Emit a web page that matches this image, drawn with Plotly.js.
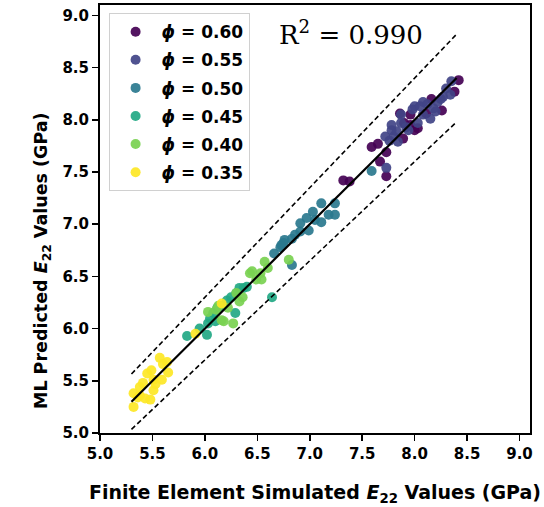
<!DOCTYPE html>
<html>
<head>
<meta charset="utf-8">
<script src="https://cdn.plot.ly/plotly-3.0.1.min.js"></script>
<style>html,body{margin:0;padding:0;background:#fff;}#chart{width:544px;height:507px;}</style>
</head>
<body>
<div id="chart"></div>
<script>
// phi series names and colors
const phiLabels = ["0.60", "0.55", "0.50", "0.45", "0.40", "0.35"];
const phiColors = ["#440154", "#414487", "#2a788e", "#22a884", "#7ad151", "#fde725"];

// Finite element (x) and ML predicted (y) values, GPa
const x060 = [7.32, 7.38, 7.59, 7.65, 7.67, 7.73, 7.73, 7.86, 7.89, 7.96, 7.96, 8.00, 8.03, 8.11, 8.16, 8.26, 8.38, 8.42, 7.90];
const y060 = [7.42, 7.41, 7.74, 7.77, 7.60, 7.69, 7.46, 8.06, 7.82, 8.05, 7.95, 7.90, 7.92, 8.06, 8.20, 8.09, 8.27, 8.38, 7.97];

const x055 = [7.73, 7.72, 7.78, 7.80, 7.83, 7.84, 7.87, 7.87, 7.92, 7.94, 8.00, 8.03, 8.08, 8.08, 8.15, 8.18, 8.22, 8.27, 8.34, 8.35, 7.78, 7.98, 8.05, 8.12, 8.20, 8.30, 7.76, 8.25];
const y055 = [7.54, 7.84, 7.90, 7.84, 7.89, 7.79, 7.97, 8.05, 7.93, 7.90, 8.13, 7.97, 8.17, 8.05, 8.01, 8.11, 8.17, 8.22, 8.24, 8.37, 7.95, 8.10, 8.13, 8.15, 8.08, 8.30, 7.80, 8.20];

const x050 = [6.66, 6.72, 6.73, 6.75, 6.76, 6.83, 6.83, 6.86, 6.91, 6.91, 6.97, 6.99, 7.03, 7.05, 7.11, 7.11, 7.18, 7.24, 7.24, 7.59];
const y050 = [6.72, 6.78, 6.80, 6.82, 6.85, 6.86, 6.61, 6.90, 7.01, 6.93, 7.06, 6.94, 7.12, 7.04, 7.02, 7.20, 7.09, 7.20, 7.09, 7.51];

const x045 = [5.83, 5.95, 6.02, 6.03, 6.05, 6.08, 6.10, 6.12, 6.16, 6.21, 6.25, 6.29, 6.30, 6.33, 6.37, 6.40, 6.64];
const y045 = [5.93, 6.00, 5.94, 6.05, 6.10, 6.15, 6.07, 6.20, 6.22, 6.27, 6.30, 6.15, 6.34, 6.39, 6.39, 6.40, 6.30];

const x040 = [6.03, 6.11, 6.13, 6.16, 6.18, 6.22, 6.27, 6.30, 6.33, 6.36, 6.43, 6.45, 6.49, 6.53, 6.54, 6.57, 6.60, 6.80];
const y040 = [6.16, 6.18, 6.22, 6.08, 6.07, 6.20, 6.05, 6.34, 6.26, 6.30, 6.53, 6.55, 6.47, 6.53, 6.47, 6.64, 6.58, 6.66];

const x035 = [5.32, 5.32, 5.36, 5.38, 5.38, 5.41, 5.43, 5.45, 5.48, 5.49, 5.51, 5.51, 5.53, 5.57, 5.59, 5.60, 5.64, 5.65, 5.91, 6.16];
const y035 = [5.25, 5.38, 5.34, 5.36, 5.44, 5.48, 5.33, 5.57, 5.32, 5.60, 5.51, 5.41, 5.47, 5.72, 5.51, 5.66, 5.68, 5.58, 5.95, 6.24];

// Reference lines: y = x fit and +/-5% bounds
const lineX = [5.3, 8.4];
const fitY = [5.3, 8.4];
const upperY = [5.565, 8.82];
const lowerY = [5.035, 7.98];

// Axis ticks
const tickVals = [5.0, 5.5, 6.0, 6.5, 7.0, 7.5, 8.0, 8.5, 9.0];
const tickText = ["5.0", "5.5", "6.0", "6.5", "7.0", "7.5", "8.0", "8.5", "9.0"];

const xs = [x060, x055, x050, x045, x040, x035];
const ys = [y060, y055, y050, y045, y040, y035];

const traces = [];
for (let i = 0; i < phiLabels.length; i++) {
  traces.push({
    type: 'scatter', mode: 'markers',
    x: xs[i], y: ys[i],
    name: '<b><i>ϕ</i> = ' + phiLabels[i] + '</b>',
    legendgroup: 'g' + i,
    marker: {color: phiColors[i], size: 10, opacity: 0.92, line: {width: 0}},
    cliponaxis: false
  });
}
traces.push({type: 'scatter', mode: 'lines', x: lineX, y: upperY, showlegend: false,
  line: {color: 'black', width: 1.6, dash: '5px,3px'}, hoverinfo: 'skip'});
traces.push({type: 'scatter', mode: 'lines', x: lineX, y: lowerY, showlegend: false,
  line: {color: 'black', width: 1.6, dash: '5px,3px'}, hoverinfo: 'skip'});
traces.push({type: 'scatter', mode: 'lines', x: lineX, y: fitY, showlegend: false,
  line: {color: 'black', width: 2.2}, hoverinfo: 'skip'});

const tickFont = {family: 'DejaVu Sans', size: 15, color: 'black', weight: 'bold'};
const axisCommon = {
  showgrid: false, zeroline: false, showline: true, mirror: true,
  linecolor: 'black', linewidth: 2, ticks: 'outside', ticklen: 6, tickwidth: 1.6,
  tickcolor: 'black', tickvals: tickVals, ticktext: tickText, tickfont: tickFont
};

const layout = {
  width: 544, height: 507,
  margin: {l: 100, r: 14, t: 5, b: 74},
  paper_bgcolor: 'white', plot_bgcolor: 'white',
  showlegend: true,
  xaxis: Object.assign({}, axisCommon, {
    range: [5.0, 9.1],
    title: {text: '<b>Finite Element Simulated <i>E</i><sub>22</sub> Values (GPa)</b>',
      font: {family: 'DejaVu Sans', size: 19, color: 'black'}, standoff: 24}
  }),
  yaxis: Object.assign({}, axisCommon, {range: [5.0, 9.1]}),
  legend: {
    x: 0.02, y: 0.981, xanchor: 'left', yanchor: 'top',
    bgcolor: 'white', bordercolor: '#d0d0d0', borderwidth: 1,
    font: {family: 'DejaVu Sans', size: 17, color: 'black'},
    tracegroupgap: 3, itemwidth: 42, traceorder: 'grouped'
  },
  annotations: [
    {xref: 'paper', yref: 'paper', x: 0.5826, y: 0.9346, xanchor: 'center', yanchor: 'middle',
     text: 'R<sup>2</sup> = 0.990', showarrow: false,
     font: {family: 'DejaVu Serif', size: 26, color: 'black'}},
    {xref: 'paper', yref: 'paper', x: -0.135, y: 0.404, xanchor: 'center', yanchor: 'middle',
     textangle: -90, showarrow: false,
     text: '<b>ML Predicted <i>E</i><sub>22</sub> Values (GPa)</b>',
     font: {family: 'DejaVu Sans', size: 17.5, color: 'black'}}
  ]
};

Plotly.newPlot('chart', traces, layout, {staticPlot: true, displayModeBar: false});
</script>
</body>
</html>
